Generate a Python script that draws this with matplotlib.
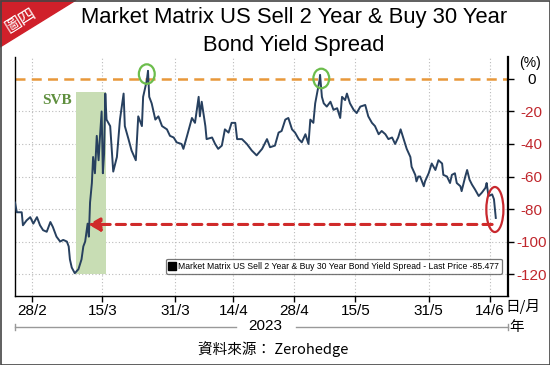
import matplotlib.pyplot as plt
import numpy as np
from matplotlib.patches import Ellipse, Polygon
from matplotlib.lines import Line2D

plt.rcParams['font.family'] = ['Liberation Sans', 'Noto Sans CJK TC', 'DejaVu Sans']

# trading sessions counted from 23/2/2023, spread in %
day = [0.2, 0.5, 1.3, 1.5, 2.1, 2.7, 3.2, 3.8, 4.3, 4.8, 5.4, 6.0, 6.4, 7.0, 7.6,
       8.1, 8.7, 9.0, 9.2, 9.5, 10.0, 10.6, 11.1, 11.4, 11.7, 12.1, 12.3, 12.5,
       12.8, 13.0, 13.3, 13.6, 13.9, 14.1, 14.4, 14.6, 14.8, 15.0, 15.2, 15.8,
       16.3, 16.9, 17.4, 18.0, 18.2, 18.8, 19.3, 20.0, 20.4, 21.0, 21.2, 21.8,
       22.0, 22.2, 22.6, 23.2, 23.7, 24.3, 25.1, 25.6, 26.2, 26.7, 27.5, 27.8,
       28.4, 29.2, 29.7, 30.3, 30.5, 30.8, 31.4, 31.6, 32.5, 33.0, 33.5, 34.1,
       34.6, 35.2, 35.7, 36.3, 36.6, 37.4, 38.2, 39.0, 39.8, 40.7, 41.5, 42.0,
       42.8, 43.4, 43.9, 44.5, 45.0, 45.6, 46.1, 46.7, 47.2, 47.8, 48.3, 48.6,
       49.1, 49.4, 49.7, 50.1, 50.2, 50.5, 50.8, 51.3, 51.9, 52.4, 53.0, 53.5,
       53.8, 54.3, 54.6, 55.1, 55.7, 56.2, 56.8, 57.6, 58.1, 58.7, 59.2, 59.8,
       60.3, 60.9, 61.4, 62.0, 62.5, 63.0, 63.4, 63.9, 64.4, 65.0, 65.2, 65.8,
       66.0, 66.3, 66.6, 67.2, 67.4, 68.0, 68.5, 69.1, 69.6, 70.2, 70.4, 71.0,
       71.5, 71.8, 72.3, 72.6, 73.2, 73.4, 74.0, 74.3, 74.7, 75.1, 75.6, 76.2,
       76.7, 77.3, 77.5, 77.8, 78.4, 78.7, 79.0]
spread = [-76, -82, -82, -90, -87, -85, -89, -85, -90, -93, -94, -88, -91, -97, -100,
          -99, -100, -103, -111, -116, -119.5, -117, -111, -103, -100, -89, -97, -76,
          -64, -48, -58, -35, -50, -37, -20, -58, -46, -9, -25, -29,
          -57, -48, -25, -9, -29, -37, -44, -50, -23, -29, -11, -1,
          5, -11, -15, -25, -23, -29, -31, -35, -36, -39, -40, -43,
          -35, -24, -27, -11, -23, -14, -29, -37, -36, -40, -43, -41,
          -31, -33, -27, -27, -37, -37, -40, -44, -47, -43, -37, -42,
          -41, -33, -32, -25, -24, -31, -33, -37, -39, -34, -40, -25,
          -27, -15, -9, -1, 2.5, -11, -15, -17, -14, -19, -18, -24,
          -11, -13, -9, -15, -19, -21, -17, -16, -23, -27, -29, -34,
          -32, -34, -37, -36, -40, -36, -31, -37, -43, -48, -54, -59,
          -63, -60, -60, -66, -63, -58, -52, -56, -50, -52, -59, -60,
          -64, -59, -58, -64, -66, -69, -60, -56, -62, -65, -68, -72,
          -70, -67, -64, -72, -71, -74, -85.5]

tick_pos = [3, 14.5, 26.5, 36, 46, 56, 68, 78]
tick_lab = ['28/2', '15/3', '31/3', '14/4', '28/4', '15/5', '31/5', '14/6']
yticks = [0, -20, -40, -60, -80, -100, -120]

svb_span = (10.2, 15.1)
svb_top, svb_bottom = -8, -120
peaks = [(21.8, 3), (50.4, 0.3)]
last_mark = (78.85, -80.3)
arrow_level = -89.5
arrow_from, arrow_to = 78.4, 12.2

W, H = 550, 365
fig = plt.figure(figsize=(5.5, 3.65), dpi=100)
ax = fig.add_axes([15 / W, 1 - 296 / H, 493 / W, 239 / H])

ax.set_xlim(0.2, 81.0)
ax.set_ylim(-133.5, 13.5)

# grid
for t in tick_pos:
    ax.axvline(t, color='#bbbbbb', lw=0.8, ls=(0, (1, 2)), zorder=0)
for v in yticks[1:]:
    ax.axhline(v, color='#bbbbbb', lw=0.8, ls=(0, (1, 2)), zorder=0)

ax.fill_between(svb_span, svb_bottom, svb_top, color='#c8ddb4', zorder=1, lw=0)
ax.text(7.1, -13, 'SVB', family='Liberation Serif', fontweight='bold', color='#5f8f3e',
        fontsize=11, ha='center', va='center')

ax.axhline(0, color='#e8983a', lw=1.8, ls=(0, (4, 2.5)), zorder=2)

ax.plot(day, spread, color='#27405f', lw=1.4, zorder=3)

for cx, cy in peaks:
    ax.add_patch(Ellipse((cx, cy), 2.6, 12, fill=False, ec='#6cbd4c', lw=1.6, zorder=4))
ax.add_patch(Ellipse(last_mark, 2.8, 27.7, fill=False, ec='#c8282e', lw=1.6, zorder=4))

ax.annotate('', xy=(arrow_to, arrow_level), xytext=(arrow_from, arrow_level),
            arrowprops=dict(arrowstyle='-|>,head_length=0.7,head_width=0.4', color='#d02a2a',
                            lw=2.2, ls=(0, (3, 2)), shrinkA=0, shrinkB=0), zorder=5)

ax.plot([], [], 's', color='black', ms=5.5,
        label='Market Matrix US Sell 2 Year & Buy 30 Year Bond Yield Spread - Last Price -85.477')
leg = ax.legend(loc='lower right', bbox_to_anchor=(0.997, 0.075), fontsize=6.2, frameon=True,
                fancybox=True, edgecolor='#555555', handlelength=0.8, handletextpad=0.3,
                borderpad=0.35, numpoints=1)
leg.get_frame().set_linewidth(0.9)

ax.spines['top'].set_visible(False)
ax.spines['right'].set_linewidth(1.6)
ax.spines['left'].set_linewidth(1.0)
ax.spines['bottom'].set_linewidth(1.0)

ax.set_xticks(tick_pos)
ax.set_xticklabels(tick_lab, fontsize=11)
ax.tick_params(axis='x', length=4, width=1, pad=2)

ax.yaxis.tick_right()
ax.set_yticks(yticks)
ax.set_yticklabels(['0'] + ['%d' % v for v in yticks[1:]], fontsize=11)
ax.tick_params(axis='y', length=4, width=1, pad=13)
for lab in ax.get_yticklabels():
    lab.set_horizontalalignment('center')
    lab.set_color('black' if lab.get_text() == '0' else '#c0272d')

fig.text(530 / W, 1 - 63 / H, '(%)', fontsize=10, ha='center', va='center')
fig.text(523 / W, 1 - 307 / H, '日/月', fontsize=10.5, ha='center', va='center',
         family=['Noto Sans CJK TC'])
fig.text(517 / W, 1 - 327 / H, '年', fontsize=10.5, ha='center', va='center',
         family=['Noto Sans CJK TC'])
fig.text(265 / W, 1 - 326 / H, '2023', fontsize=11, ha='center', va='center')
for x0, x1 in [(15, 236), (296, 508)]:
    fig.add_artist(Line2D([x0 / W, x1 / W], [1 - 327 / H] * 2, color='#999999', lw=1))
for x0 in [15, 508]:
    fig.add_artist(Line2D([x0 / W] * 2, [1 - 324 / H, 1 - 330 / H], color='#999999', lw=1))
fig.text(273 / W, 1 - 349 / H, '資料來源： Zerohedge', fontsize=10.5, ha='center', va='center',
         family=['Noto Sans CJK TC', 'Liberation Sans'])

fig.text(294 / W, 1 - 18 / H, 'Market Matrix US Sell 2 Year & Buy 30 Year', fontsize=15.8,
         ha='center', va='center')
fig.text(294 / W, 1 - 45 / H, 'Bond Yield Spread', fontsize=15.8, ha='center', va='center')

# corner badge and frame
fig.add_artist(Polygon([[0, 1], [76 / W, 1], [0, 1 - 47 / H]], closed=True,
                       transform=fig.transFigure, color='#d0202a'))
fig.text(21 / W, 1 - 20 / H, '圖四', color='white', fontsize=12, rotation=32,
         ha='center', va='center', family=['Noto Sans CJK TC'])
fig.add_artist(plt.Rectangle((0.5 / W, 0.5 / H), 1 - 1 / W, 1 - 1 / H, fill=False,
                             transform=fig.transFigure, ec='#444444', lw=1.2))

fig.savefig('out.png', dpi=100)
